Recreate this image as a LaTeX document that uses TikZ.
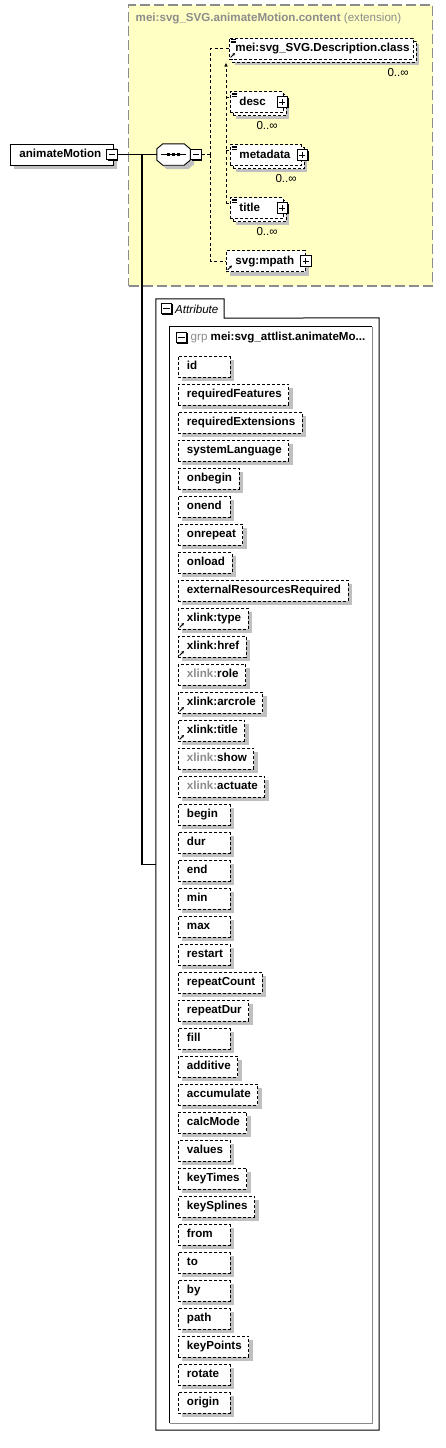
\documentclass[tikz,border=0pt]{standalone}
\usepackage{fontspec}
\setmainfont{Liberation Sans}
\usetikzlibrary{arrows.meta,positioning,calc,shadows}
\definecolor{inkGrey}{HTML}{8C8C8C}
\definecolor{shadowGrey}{HTML}{C0C0C0}
\definecolor{extFill}{HTML}{FFFFC4}
\definecolor{extLine}{HTML}{8C8C8C}
\definecolor{frameGrey}{HTML}{8A8A8A}
\newlength\attW
\newcommand\attName[1]{%
  \settowidth{\attW}{#1}%
  \ifdim\attW<36pt\setlength{\attW}{36pt}\fi
  \hspace*{8.5pt}\makebox[\attW][l]{#1}\hspace*{7pt}}
\tikzset{
  >=Latex,
  diaFont/.style={font=\fontsize{11.6}{13}\selectfont\bfseries},
  shadowed/.style={drop shadow={shadow xshift=#1,shadow yshift=-#1,
                   fill=shadowGrey,opacity=1}},
  shadowed/.default=4pt,
  backCopy/.style={general shadow={shadow xshift=3pt,shadow yshift=-3pt,
                   draw=black,fill=white,line width=0.9pt,dash pattern=on 3pt off 2pt}},
  elBox/.style={draw,line width=0.9pt,fill=white,diaFont,inner ysep=0pt,
                minimum height=21pt,text height=8.6pt,text depth=2.4pt,
                align=left,anchor=west},
  optBox/.style={elBox,dash pattern=on 3pt off 2pt},
  attBox/.style={draw,line width=0.9pt,dash pattern=on 3pt off 2pt,fill=white,
                 diaFont,inner sep=0pt,minimum height=21pt,text height=8.6pt,
                 text depth=2.4pt,anchor=west,shadowed},
  togBox/.style={draw,line width=0.8pt,fill=white,minimum size=10.5pt,inner sep=0pt,
                 drop shadow={shadow xshift=1pt,shadow yshift=-1pt,fill=black,opacity=1}},
  togMinus/.style={togBox,path picture={
      \draw[line width=1pt] ([xshift=2.2pt]path picture bounding box.west)
        -- ([xshift=-2.2pt]path picture bounding box.east);}},
  togPlus/.style={togBox,path picture={
      \draw[line width=1pt] ([xshift=2.2pt]path picture bounding box.west)
        -- ([xshift=-2.2pt]path picture bounding box.east);
      \draw[line width=1pt] ([yshift=-2.2pt]path picture bounding box.north)
        -- ([yshift=2.2pt]path picture bounding box.south);}},
  seqLine/.style={draw,line width=0.9pt,fill=white,line join=round,shadowed},
  extBox/.style={draw=extLine,line width=1.2pt,dash pattern=on 10pt off 4pt,
                 fill=extFill,inner sep=0pt},
  multLabel/.style={font=\fontsize{11.6}{13}\selectfont,inner sep=0pt,anchor=east},
  wire/.style={line width=1.1pt},
  dashWire/.style={line width=0.9pt,dash pattern=on 3pt off 2.5pt},
  refTip/.style={-{Stealth[length=3pt,width=3pt]},line width=0.8pt},
}
\begin{document}
\begin{tikzpicture}[x=1pt,y=-1pt]
\path[fill=white,use as bounding box] (0,0) rectangle (445,1448);

% Content model extension
\node[extBox,minimum width=304pt,minimum height=281pt] (ext) at (280.5,145.5) {};
\node[anchor=west,inner sep=0pt,diaFont,text=inkGrey] (extTitle) at (135.5,18.5)
  {mei:svg\_SVG.animateMotion.content {\mdseries(extension)}};

\node[elBox,shadowed,text width=85pt,inner xsep=9pt] (am) at (10,154.5) {animateMotion};
\node[togMinus] (amTog) at (112,154.5) {};

\node[minimum width=33pt,minimum height=21pt,inner sep=0pt] (seq) at (173.5,154.5) {};
\draw[seqLine] ([xshift=6pt]seq.north west) -- ([xshift=-6pt]seq.north east)
  -- ([yshift=-5pt]seq.north east) -- ([yshift=5pt]seq.south east)
  -- ([xshift=-6pt]seq.south east) -- ([xshift=6pt]seq.south west)
  -- ([yshift=5pt]seq.south west) -- ([yshift=-5pt]seq.north west) -- cycle;
\draw[line width=1pt] ([xshift=4pt]seq.west) -- ([xshift=-4pt]seq.east);
\foreach \dx in {-5,0,5}
  \fill ([xshift=\dx pt]seq.center) +(-1.8,-1.8) rectangle +(1.8,1.8);
\node[togMinus] (seqTog) at (196,154.5) {};

% Children of the sequence
\node[optBox,shadowed=6pt,backCopy,text width=172pt,inner xsep=6pt] (cls) at (229,48.5)
  {mei:svg\_SVG.Description.class};
\node[optBox,shadowed=6pt,backCopy,text width=35pt,inner xsep=9pt] (desc) at (230,102) {desc};
\node[optBox,shadowed=6pt,backCopy,text width=53pt,inner xsep=9pt] (meta) at (230,155) {metadata};
\node[optBox,shadowed=6pt,backCopy,text width=35pt,inner xsep=9pt] (ttl) at (230,208) {title};
\node[optBox,shadowed,text width=61pt,inner xsep=9pt] (mpath) at (226,261) {svg:mpath};

\node[togPlus] (descTog) at ([xshift=-1.5pt]desc.east) {};
\node[togPlus] (metaTog) at ([xshift=0.5pt]meta.east) {};
\node[togPlus] (ttlTog) at ([xshift=-1.5pt]ttl.east) {};
\node[togPlus] (mpathTog) at (mpath.east) {};

\node[multLabel] (clsMult) at ([xshift=-5pt,yshift=-12.7pt]cls.south east) {0..∞};
\node[multLabel] (descMult) at ([xshift=-6pt,yshift=-12.5pt]desc.south east) {0..∞};
\node[multLabel] (metaMult) at ([xshift=-5pt,yshift=-12.5pt]meta.south east) {0..∞};
\node[multLabel] (ttlMult) at ([xshift=-6pt,yshift=-12.5pt]ttl.south east) {0..∞};

\foreach \el in {cls,desc,meta,ttl}
  \foreach \dy in {2,3.6,5.2}
    \draw[line width=0.7pt] ([xshift=1.5pt,yshift=-\dy pt]\el.north west) -- ++(5,0);
\foreach \el in {cls,mpath}
  \draw[refTip] ([xshift=1.5pt,yshift=2pt]\el.south west) -- ++(4.5,-4.5);

% Connectors
\coordinate (trunk) at (142,154.5);
\coordinate (attJoin) at (156,864.5);
\coordinate (bus) at (210.5,154.5);
\coordinate (grpTop) at (226,62.5);
\draw[wire] (amTog.east) -- (seq.west);
\draw[wire] (trunk) |- (attJoin);
\draw[dashWire] (seqTog.east) -- (bus);
\draw[dashWire] (bus) |- (cls.west);
\draw[dashWire] (bus) |- (mpath.west);
\draw[dashWire,-{Latex[length=4pt,width=3.5pt]}] ([yshift=4.5pt]ttl.west -| grpTop) -- (grpTop);
\foreach \el in {desc,meta,ttl}
  \draw[dashWire] ([yshift=4.5pt]\el.west -| grpTop) -- ([yshift=4.5pt]\el.west);

% Attribute frame
\node[minimum width=68pt,minimum height=19pt,inner sep=0pt] (attTab) at (190,308.5) {};
\node[minimum width=223pt,minimum height=1112pt,inner sep=0pt] (attFrame) at (267.5,874) {};
\draw[line width=1pt] (attTab.south west) -- (attTab.north west) -- (attTab.north east)
  -- (attTab.south east) -- (attFrame.north east) -- (attFrame.south east)
  -- (attFrame.south west) -- cycle;
\node[togMinus] (attTog) at (166.5,308.5) {};
\node[anchor=west,inner sep=0pt,font=\fontsize{11.6}{13}\selectfont\itshape] (attLabel)
  at (175,309) {Attribute};

\node[minimum width=202pt,minimum height=1096pt,inner sep=0pt] (grp) at (271,875) {};
\draw[frameGrey,line width=1pt] (grp.north east) -- (grp.south east) -- (grp.south west);
\draw[line width=1pt] (grp.south west) -- (grp.north west) -- (grp.north east);
\node[togMinus] (grpTog) at (181.5,337.5) {};
\node[anchor=west,inner sep=0pt,diaFont] (grpTitle) at (190.5,338)
  {{\mdseries\color{inkGrey}grp} mei:svg\_attlist.animateMo...};

\foreach \nm/\kind [count=\i from 0] in {id/0,requiredFeatures/0,requiredExtensions/0,
    systemLanguage/0,onbegin/0,onend/0,onrepeat/0,onload/0,externalResourcesRequired/0,
    type/1,href/1,role/2,arcrole/1,title/1,show/2,actuate/2,begin/0,dur/0,end/0,min/0,
    max/0,restart/0,repeatCount/0,repeatDur/0,fill/0,additive/0,accumulate/0,calcMode/0,
    values/0,keyTimes/0,keySplines/0,from/0,to/0,by/0,path/0,keyPoints/0,rotate/0,origin/0} {
  \pgfmathsetmacro{\yc}{366.5+28*\i}
  \ifcase\kind\relax
    \node[attBox] (att-\nm) at (178,\yc) {\attName{\nm}};
  \or
    \node[attBox] (att-\nm) at (178,\yc) {\attName{xlink:\nm}};
    \draw[refTip] ([xshift=1.5pt,yshift=2pt]att-\nm.south west) -- ++(4.5,-4.5);
  \or
    \node[attBox] (att-\nm) at (178,\yc) {\attName{\textcolor{inkGrey}{xlink:}\nm}};
  \fi
}

\end{tikzpicture}
\end{document}
